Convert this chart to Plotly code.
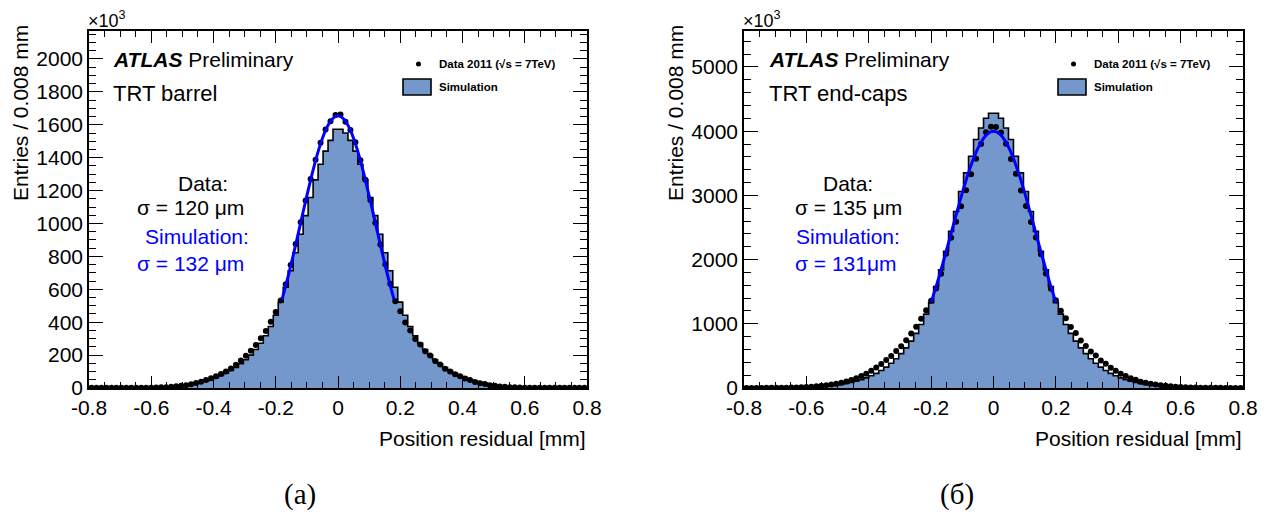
import plotly.graph_objects as go

# ---------------- data ----------------
bin_width = 0.016
bin_centers = [round(-0.792 + bin_width * i, 3) for i in range(100)]

# Panel (a): TRT barrel  (units of 10^3 entries)
data_a = [1, 1, 1, 1, 1, 1, 1, 1, 1, 1,
          1, 2, 2, 3, 4, 5, 7, 10, 13, 17,
          23, 30, 38, 48, 59, 71, 85, 100, 119, 141,
          167, 196, 226, 262, 302, 347, 402, 462, 532, 630,
          748, 876, 1008, 1140, 1270, 1388, 1490, 1572, 1622, 1660,
          1663, 1618, 1568, 1494, 1385, 1266, 1143, 1005, 872, 752,
          634, 528, 466, 398, 350, 298, 265, 223, 198, 164,
          143, 117, 101, 83, 72, 58, 49, 37, 29, 24,
          16, 13, 9, 7, 5, 4, 3, 2, 2, 1,
          1, 1, 1, 1, 1, 1, 1, 1, 1, 1]
sim_a = [1, 1, 1, 1, 1, 1, 1, 1, 1, 1,
         1, 2, 2, 3, 4, 5, 7, 10, 13, 17,
         22, 28, 35, 43, 52, 63, 76, 90, 106, 125,
         147, 172, 200, 234, 272, 318, 374, 442, 522, 612,
         713, 822, 935, 1048, 1158, 1265, 1360, 1440, 1505, 1573,
         1573, 1550, 1505, 1440, 1360, 1265, 1158, 1048, 935, 822,
         713, 612, 522, 442, 374, 318, 272, 234, 200, 172,
         147, 125, 106, 90, 76, 63, 52, 43, 35, 28,
         22, 17, 13, 10, 7, 5, 4, 3, 2, 2,
         1, 1, 1, 1, 1, 1, 1, 1, 1, 1]
fit_a_x = [-0.18, -0.16, -0.14, -0.12, -0.10, -0.08, -0.06, -0.04, -0.02, 0.0,
           0.02, 0.04, 0.06, 0.08, 0.10, 0.12, 0.14, 0.16, 0.18]
fit_a_y = [537, 680, 838, 1004, 1169, 1325, 1461, 1566, 1632, 1655,
           1632, 1566, 1461, 1325, 1169, 1004, 838, 680, 537]

# Panel (b): TRT end-caps
data_b = [1, 1, 1, 1, 2, 2, 3, 4, 5, 7,
          9, 12, 16, 21, 27, 34, 43, 53, 66, 82,
          100, 125, 152, 185, 222, 268, 320, 375, 435, 500,
          575, 650, 742, 850, 955, 1080, 1210, 1360, 1550, 1780,
          2090, 2340, 2590, 2830, 3080, 3330, 3570, 3800, 3985, 4070,
          4065, 3978, 3805, 3565, 3335, 3075, 2835, 2585, 2345, 2085,
          1785, 1545, 1365, 1205, 1085, 950, 855, 738, 655, 570,
          505, 430, 378, 316, 270, 220, 187, 150, 127, 98,
          83, 65, 54, 42, 35, 26, 21, 16, 12, 9,
          7, 5, 4, 3, 2, 2, 1, 1, 1, 1]
sim_b = [1, 1, 1, 1, 1, 1, 2, 2, 3, 4,
         6, 8, 10, 13, 17, 22, 28, 36, 45, 56,
         70, 87, 107, 130, 158, 190, 228, 272, 325, 385,
         455, 535, 625, 730, 850, 990, 1150, 1330, 1580, 1840,
         2130, 2440, 2750, 3060, 3350, 3610, 3870, 4050, 4200, 4280,
         4280, 4200, 4050, 3870, 3610, 3350, 3060, 2750, 2440, 2130,
         1840, 1580, 1330, 1150, 990, 850, 730, 625, 535, 455,
         385, 325, 272, 228, 190, 158, 130, 107, 87, 70,
         56, 45, 36, 28, 22, 17, 13, 10, 8, 6,
         4, 3, 2, 2, 1, 1, 1, 1, 1, 1]
fit_b_x = [-0.20, -0.18, -0.16, -0.14, -0.12, -0.10, -0.08, -0.06, -0.04, -0.02, 0.0,
           0.02, 0.04, 0.06, 0.08, 0.10, 0.12, 0.14, 0.16, 0.18, 0.20]
fit_b_y = [1335, 1644, 1982, 2336, 2695, 3040, 3356, 3624, 3828, 3956, 4000,
           3956, 3828, 3624, 3356, 3040, 2695, 2336, 1982, 1644, 1335]

x_ticks = [-0.8, -0.6, -0.4, -0.2, 0, 0.2, 0.4, 0.6, 0.8]
x_ticktext = ["-0.8", "-0.6", "-0.4", "-0.2", "0", "0.2", "0.4", "0.6", "0.8"]
y_ticks_a = [0, 200, 400, 600, 800, 1000, 1200, 1400, 1600, 1800, 2000]
y_ticks_b = [0, 1000, 2000, 3000, 4000, 5000]

# ---------------- style ----------------
OFF = 8                     # page body margin
W, H = 1266 - 2 * OFF, 519 - 2 * OFF
FONT = "Liberation Sans, Arial, Helvetica, sans-serif"
SERIF = "Liberation Serif, Times New Roman, serif"
FILL = "#7598cc"


def px(x):
    return (x - OFF) / W


def py(y):
    return 1 - (y - OFF) / H


fig = go.Figure()

panels = [
    dict(xa="x", ya="y", sim=sim_a, dat=data_a, fx=fit_a_x, fy=fit_a_y),
    dict(xa="x2", ya="y2", sim=sim_b, dat=data_b, fx=fit_b_x, fy=fit_b_y),
]
for p in panels:
    fig.add_trace(go.Scatter(x=bin_centers, y=p["sim"], xaxis=p["xa"], yaxis=p["ya"],
                             mode="lines", line=dict(shape="hvh", color="black", width=1.6),
                             fill="tozeroy", fillcolor=FILL, showlegend=False, hoverinfo="skip"))
    fig.add_trace(go.Scatter(x=bin_centers, y=p["dat"], xaxis=p["xa"], yaxis=p["ya"],
                             mode="markers", marker=dict(color="black", size=6),
                             showlegend=False))
    fig.add_trace(go.Scatter(x=p["fx"], y=p["fy"], xaxis=p["xa"], yaxis=p["ya"],
                             mode="lines", line=dict(shape="spline", color="#0000ff", width=3),
                             showlegend=False))

y_dom = [py(388), py(31)]
common_x = dict(range=[-0.8, 0.8], tickvals=x_ticks, ticktext=x_ticktext,
                ticks="inside", ticklen=12, tickwidth=1, tickcolor="black",
                showline=True, linewidth=1.6, linecolor="black", mirror="allticks",
                showgrid=False, zeroline=False, automargin=False,
                tickfont=dict(family=FONT, size=21, color="black"),
                minor=dict(ticks="inside", ticklen=6, tickwidth=1, tickcolor="black",
                           dtick=0.05, tick0=-0.8, showgrid=False))
common_y = dict(ticks="inside", ticklen=14, tickwidth=1, tickcolor="black",
                showline=True, linewidth=1.6, linecolor="black", mirror="allticks",
                showgrid=False, zeroline=False, automargin=False,
                tickfont=dict(family=FONT, size=21, color="black"))

fig.update_layout(
    width=W, height=H, margin=dict(l=0, r=0, t=0, b=0, autoexpand=False),
    paper_bgcolor="white", plot_bgcolor="white",
    showlegend=False,
    font=dict(family=FONT, color="black"),
    xaxis=dict(domain=[px(89), px(587)], anchor="y", **common_x),
    yaxis=dict(domain=y_dom, anchor="x", range=[0, 2170], tickvals=y_ticks_a,
               minor=dict(ticks="inside", ticklen=7, tickwidth=1, tickcolor="black",
                          dtick=50, tick0=0, showgrid=False), **common_y),
    xaxis2=dict(domain=[px(744), px(1243)], anchor="y2", **common_x),
    yaxis2=dict(domain=y_dom, anchor="x2", range=[0, 5560], tickvals=y_ticks_b,
                minor=dict(ticks="inside", ticklen=7, tickwidth=1, tickcolor="black",
                           dtick=200, tick0=0, showgrid=False), **common_y),
)

ann = []
shapes = []


def text(x, y, s, size=20, color="black", xanchor="left", yanchor="middle", family=FONT, angle=0):
    ann.append(dict(x=px(x), y=py(y), xref="paper", yref="paper", text=s, showarrow=False,
                    xanchor=xanchor, yanchor=yanchor, textangle=angle, borderpad=0,
                    font=dict(family=family, size=size, color=color)))


panel_text = [
    dict(ax=89, ax_r=587, lab_x=21, atlas_x=112, det="TRT barrel", legx=403,
         blocks=[(203, "Data:"), (190, "σ = 120 μm"), (197, "Simulation:"), (190, "σ = 132 μm")],
         tag_x=300, tag="(a)"),
    dict(ax=744, ax_r=1243, lab_x=676, atlas_x=768, det="TRT end-caps", legx=1058,
         blocks=[(848, "Data:"), (848, "σ = 135 μm"), (848, "Simulation:"), (846, "σ = 131μm")],
         tag_x=957, tag="(б)"),
]
for t in panel_text:
    text(t["ax"] - 2, 32, "×10<sup>3</sup>", size=18, yanchor="bottom")
    text(t["lab_x"], 24, "Entries / 0.008 mm", size=21, xanchor="center", yanchor="top", angle=-90)
    text(t["ax_r"], 438, "Position residual [mm]", size=21, xanchor="right")
    text(t["atlas_x"], 60, "<b><i>ATLAS</i></b> Preliminary", size=21)
    text(t["atlas_x"], 93, t["det"], size=22)
    ys = [183, 208, 236, 263]
    for i, (cx, s) in enumerate(t["blocks"]):
        text(cx, ys[i], s, size=21, color="black" if i < 2 else "#0000ff", xanchor="center")
    text(t["tag_x"], 494, t["tag"], size=29, xanchor="center", family=SERIF)
    # legend
    lx = t["legx"]
    text(lx + 35, 64, "<b>Data 2011 (√s = 7TeV)</b>", size=11.5)
    text(lx + 35, 87, "<b>Simulation</b>", size=11.5)
    shapes.append(dict(type="circle", xref="paper", yref="paper",
                       x0=px(lx + 13), x1=px(lx + 18), y0=py(66.5), y1=py(61.5),
                       fillcolor="black", line=dict(color="black", width=0)))
    shapes.append(dict(type="rect", xref="paper", yref="paper",
                       x0=px(lx), x1=px(lx + 28), y0=py(95), y1=py(79),
                       fillcolor=FILL, line=dict(color="black", width=1.6)))

fig.update_layout(annotations=ann, shapes=shapes)
fig.write_html("out.html")
